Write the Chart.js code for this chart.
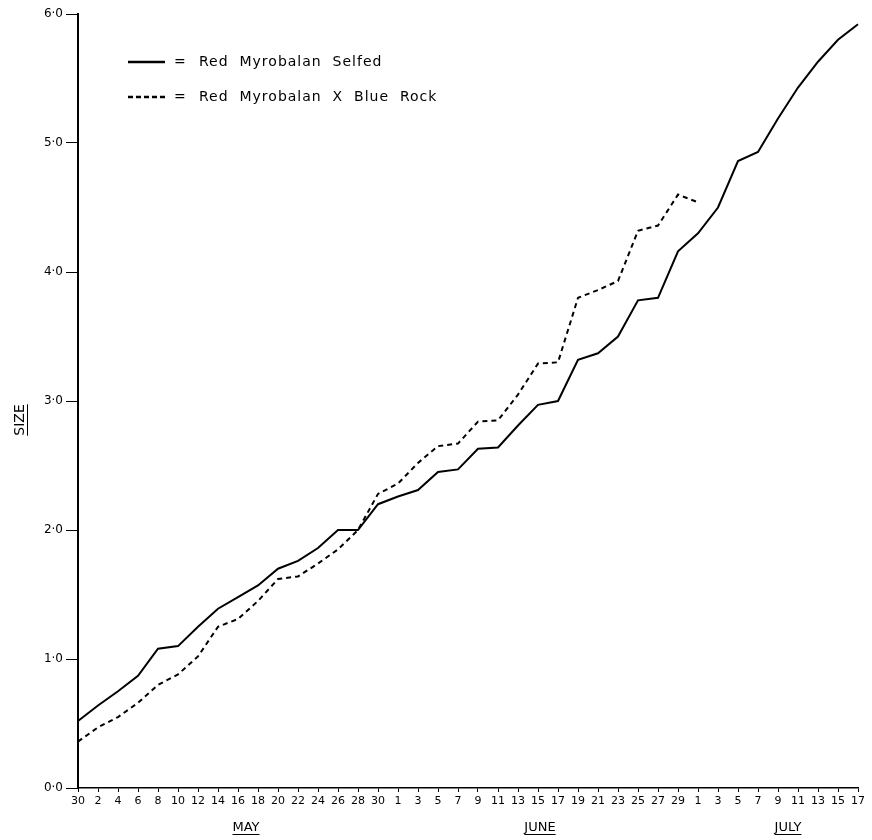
<!DOCTYPE html>
<html>
<head>
<meta charset="utf-8">
<title>Size - Red Myrobalan</title>
<script src="https://cdn.jsdelivr.net/npm/chart.js@4.4.1/dist/chart.umd.min.js"></script>
<style>
    body { margin: 0; background: #fff; }
    #wrap { width: 872px; height: 840px; position: relative; }
</style>
</head>
<body>
<div id="wrap"><canvas id="sizeChart"></canvas></div>
<script>
// dates every 2 days, 30 Apr .. 17 July
const dayLabels = ["30", "2", "4", "6", "8", "10", "12", "14", "16", "18", "20", "22", "24", "26", "28", "30",
    "1", "3", "5", "7", "9", "11", "13", "15", "17", "19", "21", "23", "25", "27", "29",
    "1", "3", "5", "7", "9", "11", "13", "15", "17"];

const selfed = [0.52, 0.64, 0.75, 0.87, 1.08, 1.10, 1.25, 1.39, 1.48, 1.57, 1.70, 1.76, 1.86, 2.00, 2.00, 2.20,
    2.26, 2.31, 2.45, 2.47, 2.63, 2.64, 2.81, 2.97, 3.00, 3.32, 3.37, 3.50, 3.78, 3.80,
    4.16, 4.30, 4.50, 4.86, 4.93, 5.19, 5.43, 5.63, 5.80, 5.92];

const crossed = [0.36, 0.47, 0.55, 0.66, 0.80, 0.88, 1.02, 1.25, 1.31, 1.45, 1.62, 1.64, 1.74, 1.85, 2.00, 2.28,
    2.36, 2.52, 2.65, 2.67, 2.84, 2.85, 3.05, 3.29, 3.30, 3.80, 3.86, 3.93, 4.32, 4.36,
    4.60, 4.54];

const legendNames = ["Red  Myrobalan  Selfed", "Red  Myrobalan  X  Blue  Rock"];
const months = [["MAY", 8.4], ["JUNE", 23.1], ["JULY", 35.5]];
const yTicks = [0, 1, 2, 3, 4, 5, 6];

const FONT = "'DejaVu Sans', sans-serif";

// legend, month names and axis title drawn on top
const extras = {
    id: 'extras',
    afterDraw(chart) {
        const ctx = chart.ctx;
        const x = chart.scales.x;
        ctx.save();
        ctx.fillStyle = '#000';
        ctx.strokeStyle = '#000';

        // legend
        ctx.font = "14px " + FONT;
        ctx.letterSpacing = "1px";
        ctx.textBaseline = 'middle';
        const rows = [62, 97];
        for (let i = 0; i < 2; i++) {
            ctx.lineWidth = 2.5;
            ctx.setLineDash(i === 0 ? [] : [5, 3]);
            ctx.beginPath();
            ctx.moveTo(128, rows[i]);
            ctx.lineTo(165, rows[i]);
            ctx.stroke();
            ctx.setLineDash([]);
            ctx.fillText("=", 174, rows[i]);
            ctx.fillText(legendNames[i], 199, rows[i]);
        }
        ctx.letterSpacing = "0px";

        // months
        ctx.font = "13px " + FONT;
        ctx.textAlign = 'center';
        ctx.textBaseline = 'alphabetic';
        ctx.lineWidth = 1;
        months.forEach(m => {
            const px = x.getPixelForValue(m[1]);
            ctx.fillText(m[0], px, 831);
            const w = ctx.measureText(m[0]).width;
            ctx.beginPath();
            ctx.moveTo(px - w / 2, 834.5);
            ctx.lineTo(px + w / 2, 834.5);
            ctx.stroke();
        });

        // y title
        ctx.translate(24, 420);
        ctx.rotate(-Math.PI / 2);
        ctx.font = "14px " + FONT;
        ctx.fillText("SIZE", 0, 0);
        const tw = ctx.measureText("SIZE").width;
        ctx.beginPath();
        ctx.moveTo(-tw / 2, 3.5);
        ctx.lineTo(tw / 2, 3.5);
        ctx.stroke();
        ctx.restore();
    }
};

new Chart(document.getElementById("sizeChart"), {
    type: 'line',
    data: {
        labels: dayLabels,
        datasets: [{
            label: "Red Myrobalan Selfed",
            data: selfed,
            borderColor: "#000",
            borderWidth: 2,
            pointRadius: 0,
            tension: 0,
            fill: false
        }, {
            label: "Red Myrobalan X Blue Rock",
            data: crossed,
            borderColor: "#000",
            borderWidth: 2,
            borderDash: [5, 4],
            pointRadius: 0,
            tension: 0,
            fill: false
        }]
    },
    options: {
        responsive: true,
        maintainAspectRatio: false,
        animation: false,
        layout: {
            padding: { left: 0, top: 14, right: 14, bottom: 0 }
        },
        plugins: {
            legend: { display: false },
            tooltip: { enabled: false }
        },
        scales: {
            x: {
                offset: false,
                grid: { drawOnChartArea: false, drawTicks: true, tickLength: 4, color: '#000' },
                border: { display: true, color: '#000', width: 1.5 },
                ticks: {
                    autoSkip: false,
                    maxRotation: 0,
                    minRotation: 0,
                    padding: 3,
                    color: '#000',
                    font: { family: FONT, size: 11 }
                },
                afterFit: (scale) => { scale.height = 52; }
            },
            y: {
                min: 0,
                max: 6,
                afterBuildTicks: (scale) => { scale.ticks = yTicks.map(v => ({ value: v })); },
                grid: { drawOnChartArea: false, drawTicks: true, tickLength: 12, color: '#000', width: 1.5 },
                border: { display: true, color: '#000', width: 2 },
                ticks: {
                    padding: 3,
                    color: '#000',
                    font: { family: FONT, size: 12 },
                    callback: (v) => Number(v).toFixed(1).replace('.', '·')
                },
                afterFit: (scale) => { scale.width = 78; }
            }
        }
    },
    plugins: [extras]
});
</script>
</body>
</html>
